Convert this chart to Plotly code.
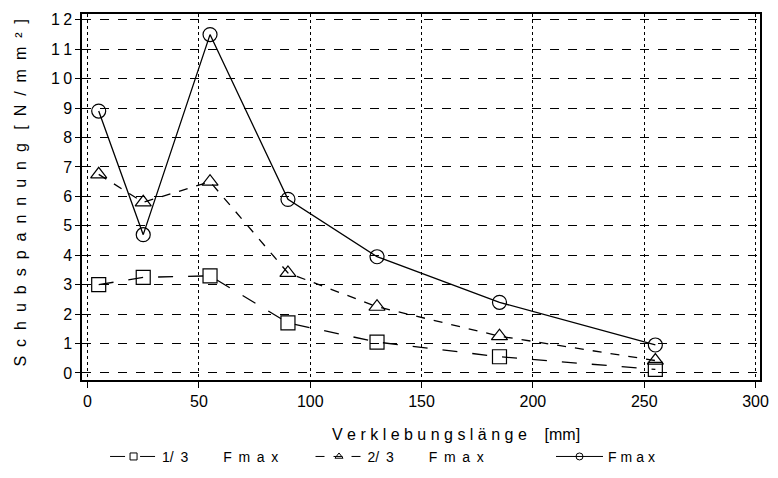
import plotly.graph_objects as go

laenge = [5, 25, 55, 90, 130, 185, 255]
f_13 = [3.0, 3.25, 3.3, 1.7, 1.05, 0.55, 0.12]
f_23 = [6.75, 5.8, 6.5, 3.4, 2.25, 1.25, 0.42]
f_max = [8.9, 4.7, 11.5, 5.9, 3.95, 2.4, 0.95]

NB, TH, HR = "\u00a0", "\u2009", "\u200a"
fmax_wide = (NB + TH).join("Fmax")
fmax_narrow = (TH + HR).join("Fmax")
names = ["1/" + NB + TH + "3" + NB * 9 + fmax_wide + NB * 7,
         "2/" + NB + TH + "3" + NB * 9 + fmax_wide + NB * 16,
         fmax_narrow]
x_ticks = [0, 50, 100, 150, 200, 250, 300]
x_ticktext = [str(v) for v in x_ticks]
y_ticks = list(range(0, 13))
y_ticktext = [TH.join(str(v)) for v in y_ticks]
x_title = NB.join("Verklebungslänge") + NB * 4 + "[mm]"
y_title = (NB + TH + HR).join("Schubspannung") + NB * 3 + (NB + TH + HR).join("[N/mm²]")

fig = go.Figure()
series = [
    (f_13, names[0], "square-open", "longdash"),
    (f_23, names[1], "triangle-up-open", "dash"),
    (f_max, names[2], "circle-open", "solid"),
]
for vals, nm, sym, dash in series:
    fig.add_trace(go.Scatter(
        x=laenge, y=vals, name=nm, mode="lines+markers", showlegend=False,
        line=dict(color="black", width=1.3, dash=dash),
        marker=dict(symbol=sym, size=14, color="black", line=dict(width=1.2, color="black")),
    ))
    fig.add_trace(go.Scatter(
        x=[None], y=[None], name=nm, mode="lines+markers", showlegend=True,
        line=dict(color="black", width=1, dash=dash),
        marker=dict(symbol=sym, size=7, color="black", line=dict(width=1, color="black")),
    ))

font_fam = "Liberation Sans, Arial, sans-serif"
# page has an 8px body margin, so the figure starts 8px in from the top-left corner
fig.update_layout(
    width=770, height=462,
    margin=dict(l=74, r=18, t=6, b=90, autoexpand=False),
    paper_bgcolor="white", plot_bgcolor="white",
    font=dict(family=font_fam, size=14, color="black"),
    showlegend=True,
    legend=dict(orientation="h", x=0.034, xanchor="left", y=-0.210, yanchor="middle",
                font=dict(size=14), itemwidth=47, tracegroupgap=0),
    xaxis=dict(
        range=[-2.5, 302], tickvals=x_ticks, ticktext=x_ticktext, ticks="outside", ticklen=6, tickcolor="black",
        showline=True, linecolor="black", linewidth=1.5, mirror=True, automargin=False,
        showgrid=True, gridcolor="black", gridwidth=1, griddash="dot", zeroline=False,
        tickfont=dict(size=16), ticklabeloverflow="allow",
    ),
    yaxis=dict(
        range=[-0.24, 12.2], tickvals=y_ticks, ticktext=y_ticktext, ticks="outside", ticklen=5, tickcolor="black",
        showline=True, linecolor="black", linewidth=1.5, mirror=True, automargin=False,
        showgrid=True, gridcolor="black", gridwidth=1, griddash="dash", zeroline=False,
        tickfont=dict(size=16),
    ),
    annotations=[
        dict(text=x_title, xref="paper", yref="paper", x=0.366, y=-0.148,
             xanchor="left", yanchor="middle", showarrow=False, font=dict(size=16)),
        dict(text=y_title, xref="paper", yref="paper", x=-0.090, y=0.512, textangle=-90,
             xanchor="center", yanchor="middle", showarrow=False, font=dict(size=16)),
    ],
)

fig.write_html("out.html")
